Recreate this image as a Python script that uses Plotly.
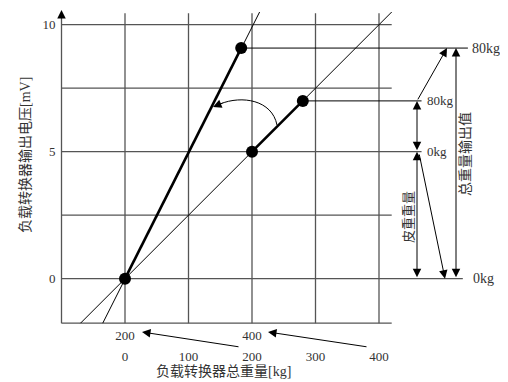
import plotly.graph_objects as go

# ---- data ----
x_grid = [0, 100, 200, 300, 400]
y_grid = [0, 2.5, 5, 7.5, 10]
y_ticks = [0, 5, 10]
x_top_vals = [0, 200]
x_top_text = ["200", "400"]
x_bottom_vals = [0, 100, 200, 300, 400]
x_bottom_text = ["0", "100", "200", "300", "400"]

point_x = [0, 200, 280, 183]
point_y = [0, 5, 7, 9.08]

shallow_line_x = [-70, 420]
shallow_line_y = [-1.75, 10.5]
steep_line_x = [-35, 212]
steep_line_y = [-1.75, 10.5]
thick_steep_x = [0, 183]
thick_steep_y = [0, 9.08]
thick_shallow_x = [200, 280]
thick_shallow_y = [5, 7]

y_title = "负载转换器输出电压[mV]"
x_title = "负载转换器总重量[kg]"
tare_label = "皮重重量"
total_label = "总重量输出值"

# ---- layout helpers (page pixel -> data) ----
OFF = 8            # page body margin
W, H = 500, 374
PX_PER_X = 0.635   # px per data unit in x
PX_PER_Y = 25.4    # px per data unit in y
X0_PX, Y0_PX = 125, 278.7
def X(px):
    return (px - X0_PX) / PX_PER_X
def Y(py):
    return (Y0_PX - py) / PX_PER_Y

FONT = "Liberation Serif, 'Noto Sans CJK SC', serif"
TXT = "#333"
GRID = "#555"

x_left = -100
y_bottom = -1.75
y_top_grid = 10.45
x_right_grid = 420

fig = go.Figure()

def line(xs, ys, width=1, color="black"):
    fig.add_trace(go.Scatter(x=xs, y=ys, mode="lines",
                             line=dict(color=color, width=width),
                             hoverinfo="skip", showlegend=False))

# vertical grid lines
for gx in x_grid:
    line([gx, gx], [y_bottom, y_top_grid], 1.3, GRID)
# horizontal grid lines
grid_right = {0: 532, 2.5: x_right_grid, 5: 467, 7.5: x_right_grid, 10: x_right_grid}
for gy in y_grid:
    line([x_left, grid_right[gy]], [gy, gy], 1.3, GRID)

# axes
line([x_left, x_left], [y_bottom, 10.4], 1.3, GRID)
line([x_left, x_right_grid], [y_bottom, y_bottom], 1.3, GRID)

# level lines from the points
line([point_x[3], 540], [point_y[3], point_y[3]], 1, "black")
line([point_x[2], 467], [point_y[2], point_y[2]], 1, "black")

# thin characteristic lines
line(shallow_line_x, shallow_line_y, 1, "black")
line(steep_line_x, steep_line_y, 1, "black")
# thick segments
line(thick_steep_x, thick_steep_y, 2.6, "black")
line(thick_shallow_x, thick_shallow_y, 2.6, "black")

# points
fig.add_trace(go.Scatter(x=point_x, y=point_y, mode="markers",
                         marker=dict(size=12, color="black"),
                         hoverinfo="skip", showlegend=False))

# invisible trace for second x axis
fig.add_trace(go.Scatter(x=[0], y=[0], xaxis="x2", mode="markers",
                         marker=dict(opacity=0), hoverinfo="skip", showlegend=False))

# curved arrow
p0 = (X(277), Y(125)); p1 = (X(272), Y(100)); p2 = (X(242), Y(95)); p3 = (X(220), Y(104))
fig.add_shape(type="path", xref="x", yref="y",
              path=f"M {p0[0]},{p0[1]} C {p1[0]},{p1[1]} {p2[0]},{p2[1]} {p3[0]},{p3[1]}",
              line=dict(color="black", width=1))

annotations = []
def arrow(x, y, ax, ay, both=False, size=1.7):
    a = dict(x=x, y=y, ax=ax, ay=ay, xref="x", yref="y", axref="x", ayref="y",
             text="", showarrow=True, arrowhead=2, arrowsize=size, arrowwidth=1,
             arrowcolor="black", standoff=0, startstandoff=0)
    if both:
        a.update(arrowside="end+start", startarrowhead=2, startarrowsize=size)
    annotations.append(a)

arrow(X(213), Y(107), X(224), Y(102.5))
# y axis arrow
arrow(x_left, Y(10), x_left, 10.2)
# right side arrows
xa = X(417)
xt = X(456)
arrow(xa, 7, xa, 5, both=True)
arrow(xa, 5, xa, 0, both=True)
arrow(X(445), 0, X(419), Y(153))
arrow(X(447), point_y[3], xa, 7)
arrow(xt, point_y[3], xt, 0, both=True)
# bottom arrows
arrow(X(142), Y(332), X(240), Y(347))
arrow(X(268), Y(332), X(368), Y(347))

def label(x, y, text, size=13, xanchor="center", angle=0):
    annotations.append(dict(x=x, y=y, xref="x", yref="y", text=text, showarrow=False,
                            xanchor=xanchor, yanchor="middle", textangle=angle,
                            font=dict(family=FONT, size=size, color=TXT)))

label(X(470), point_y[3], "80kg", 14, "left")
label(X(425), 7, "80kg", 13, "left")
label(X(425), 5, "0kg", 13, "left")
label(X(471), 0, "0kg", 14, "left")
label(X(408), Y(217), tare_label, 13, angle=-90)
label(X(465), Y(154), total_label, 14, angle=-90)
label(X(25), Y(155), y_title, 14, angle=-90)
label(X(223), Y(371), x_title, 14)

fig.update_layout(
    width=W, height=H,
    margin=dict(l=0, r=0, t=0, b=0),
    paper_bgcolor="white", plot_bgcolor="white",
    showlegend=False,
    annotations=annotations,
    xaxis=dict(range=[X(OFF), X(OFF + W)], anchor="free", position=1 - (323 - OFF) / H,
               showgrid=False, zeroline=False, showline=False, ticks="",
               tickvals=x_top_vals, ticktext=x_top_text, ticklabelstandoff=3,
               tickfont=dict(family=FONT, size=13, color=TXT), automargin=False),
    xaxis2=dict(range=[X(OFF), X(OFF + W)], overlaying="x", anchor="free",
                position=1 - (345 - OFF) / H, side="bottom", matches="x",
                showgrid=False, zeroline=False, showline=False, ticks="",
                tickvals=x_bottom_vals, ticktext=x_bottom_text, ticklabelstandoff=2,
                tickfont=dict(family=FONT, size=13, color=TXT), automargin=False),
    yaxis=dict(range=[Y(OFF + H), Y(OFF)], anchor="free", position=(61.5 - OFF) / W,
               showgrid=False, zeroline=False, showline=False, ticks="",
               tickvals=y_ticks, ticklabelstandoff=6,
               tickfont=dict(family=FONT, size=13, color=TXT), automargin=False),
)

fig.write_html("out.html")
